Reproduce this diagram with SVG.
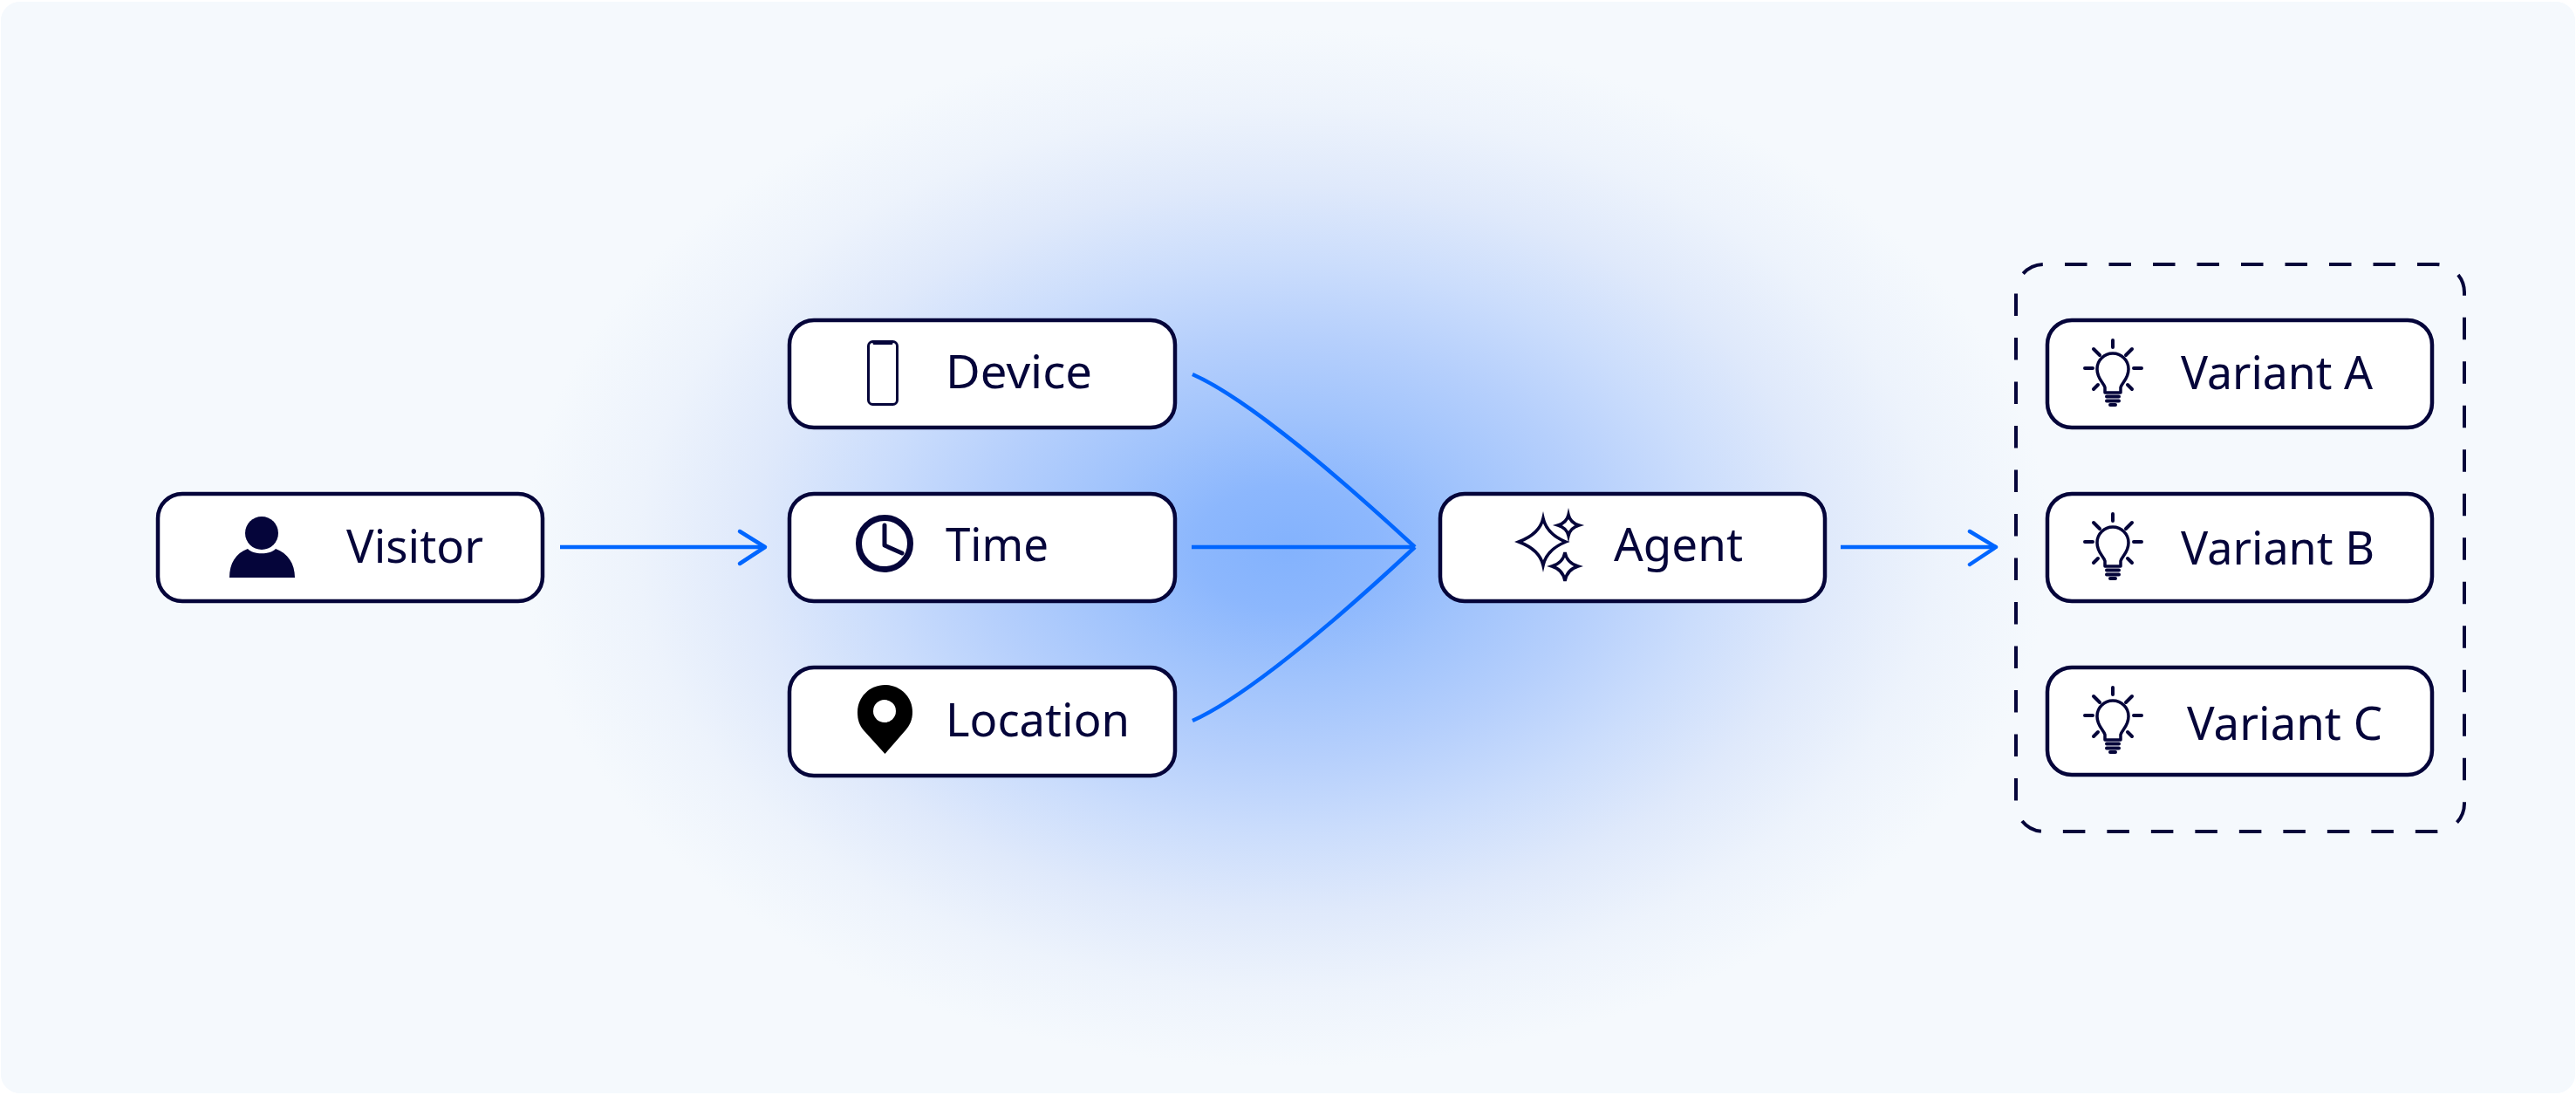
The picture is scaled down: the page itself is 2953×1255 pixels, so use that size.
<svg xmlns="http://www.w3.org/2000/svg" width="2953" height="1255" viewBox="0 0 2953 1255">
<style>
.box{fill:#fff;stroke:#05053a;stroke-width:4.500}
.lbl{font-family:"Noto Sans","Liberation Sans",sans-serif;font-size:53px;fill:#05053a}
.conn{fill:none;stroke:#0066ff;stroke-width:4.500;stroke-linejoin:round}
.ic{fill:none;stroke:#05053a;stroke-linecap:round;stroke-linejoin:round}
.spark{fill:none;stroke:#05053a;stroke-width:3.500;stroke-linejoin:miter;stroke-miterlimit:6}
</style>
<defs>
<radialGradient id="glow" gradientUnits="userSpaceOnUse" cx="0" cy="0" r="1" gradientTransform="translate(1475 628) scale(875 595)">
<stop offset="0" stop-color="#83b2fd"/>
<stop offset="0.12" stop-color="#8cb7fd"/>
<stop offset="0.25" stop-color="#a0c3fc"/>
<stop offset="0.4" stop-color="#b5cffc"/>
<stop offset="0.55" stop-color="#cbddfc"/>
<stop offset="0.7" stop-color="#dfe9fb"/>
<stop offset="0.85" stop-color="#edf3fc"/>
<stop offset="1" stop-color="#f5f9fd"/>
</radialGradient>
<g id="bulb">
<path class="ic" stroke-width="3.500" d="M2413 450 L2413 444 C2411 438 2404 434 2404 423 C2404 413 2412 405 2422 405 C2432 405 2440 413 2440 423 C2440 434 2433 438 2431 444 L2431 450 Z"/>
<path class="ic" stroke-width="4" d="M2415 454.500H2429 M2415 459.500H2429 M2419 464H2425 M2422 390V398 M2390 422H2399 M2446 422H2455 M2400 400L2407 407 M2444 400L2437 407 M2400 446L2405 441 M2444 446L2439 441"/>
</g>
</defs>
<rect width="2953" height="1255" fill="#fff"/>
<rect x="1" y="2" width="2951" height="1251" rx="22" fill="#f5f9fd"/>
<rect x="1" y="2" width="2951" height="1251" rx="22" fill="url(#glow)"/>

<g id="connectors">
<path class="conn" stroke-linecap="butt" d="M642 627H877"/>
<path class="conn" stroke-linecap="round" d="M848 609L877 627L848 646"/>
<path class="conn" stroke-linecap="butt" d="M1367 429C1410 448 1490 505 1622 627 M1366 627H1622 M1367 826C1410 807 1490 750 1622 627"/>
<path class="conn" stroke-linecap="butt" d="M2110 627H2288"/>
<path class="conn" stroke-linecap="round" d="M2258 609L2288 627L2258 647"/>
</g>

<g id="group-variants">
<path fill="none" stroke="#05053a" stroke-width="4" stroke-dasharray="25.500 25" stroke-dashoffset="26.500" d="M2343 303H2793A32 32 0 0 1 2825 335V921A32 32 0 0 1 2793 953H2343A32 32 0 0 1 2311 921V335A32 32 0 0 1 2343 303Z"/>
</g>

<g id="node-visitor">
<rect class="box" x="181" y="566" width="441" height="123" rx="28"/>
<circle cx="300" cy="611" r="19" fill="#05053a"/>
<path fill="#05053a" d="M263 662C263 646 270 634 284 629C290 636 310 636 316 629C330 634 338 646 338 662Z"/>
<text class="lbl" x="397" y="645" textLength="157" lengthAdjust="spacingAndGlyphs">Visitor</text>
</g>

<g id="node-device">
<rect class="box" x="905" y="367" width="442" height="123" rx="28"/>
<rect class="ic" stroke-width="3" x="995.500" y="391.500" width="33" height="72" rx="5"/>
<path class="ic" stroke-width="3" d="M1002 393.500H1022"/>
<text class="lbl" x="1084" y="445" textLength="168" lengthAdjust="spacingAndGlyphs">Device</text>
</g>

<g id="node-time">
<rect class="box" x="905" y="566" width="442" height="123" rx="28"/>
<circle class="ic" stroke-width="7" cx="1014" cy="623" r="29.500"/>
<path class="ic" stroke-width="5" d="M1014 602V625L1034 634"/>
<text class="lbl" x="1084" y="643" textLength="118" lengthAdjust="spacingAndGlyphs">Time</text>
</g>

<g id="node-location">
<rect class="box" x="905" y="765" width="442" height="124" rx="28"/>
<path fill="#000" d="M1014.500 785C1032 785 1046 799 1046 816C1046 825 1043 831 1038 837L1014.500 864L990 837C985 831 983 825 983 816C983 799 997 785 1014.500 785Z"/>
<circle cx="1014" cy="815" r="13" fill="#fff"/>
<text class="lbl" x="1084" y="844" textLength="211" lengthAdjust="spacingAndGlyphs">Location</text>
</g>

<g id="node-agent">
<rect class="box" x="1651" y="566" width="441" height="123" rx="28"/>
<path class="spark" d="M1769 594Q1773 612 1795 621Q1773 630 1769 648Q1765 630 1741 621Q1765 612 1769 594Z"/>
<path class="spark" d="M1798 590Q1800 599 1810 602Q1800 605 1798 614Q1796 605 1786 602Q1796 599 1798 590Z"/>
<path class="spark" d="M1794 633Q1796 645 1809 649Q1796 653 1794 666Q1792 653 1779 649Q1792 645 1794 633Z"/>
<text class="lbl" x="1850" y="643" textLength="148" lengthAdjust="spacingAndGlyphs">Agent</text>
</g>

<g id="node-variant-a">
<rect class="box" x="2347" y="367" width="441" height="123" rx="28"/>
<use href="#bulb"/>
<text class="lbl" x="2500" y="446" textLength="220" lengthAdjust="spacingAndGlyphs">Variant A</text>
</g>

<g id="node-variant-b">
<rect class="box" x="2347" y="566" width="441" height="123" rx="28"/>
<use href="#bulb" y="199"/>
<text class="lbl" x="2500" y="647" textLength="222" lengthAdjust="spacingAndGlyphs">Variant B</text>
</g>

<g id="node-variant-c">
<rect class="box" x="2347" y="765" width="441" height="123" rx="28"/>
<use href="#bulb" y="398"/>
<text class="lbl" x="2507" y="848" textLength="224" lengthAdjust="spacingAndGlyphs">Variant C</text>
</g>
</svg>
